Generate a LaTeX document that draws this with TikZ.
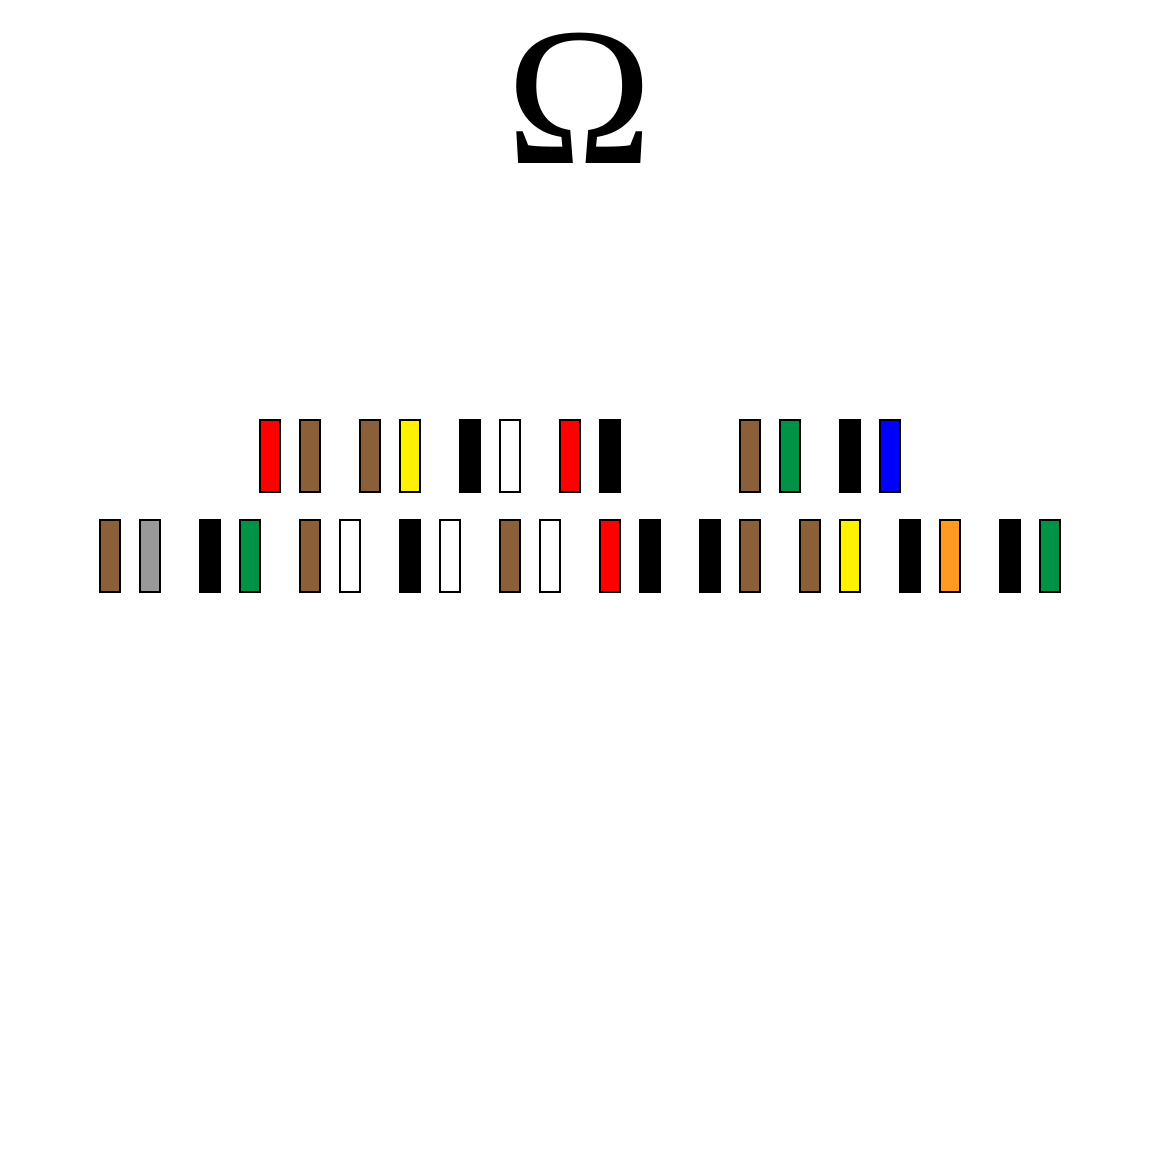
\documentclass[tikz,border=0pt]{standalone}
\usepackage{fontspec}
\setmainfont{Liberation Serif}
\definecolor{rbrown}{RGB}{139,96,56}
\definecolor{rgreen}{RGB}{0,146,69}
\definecolor{rorange}{RGB}{255,153,34}
\definecolor{rgray}{RGB}{153,153,153}
\tikzset{band/.style={draw=black,line width=2pt}}
\begin{document}
\begin{tikzpicture}[x=1pt,y=-1pt]
\useasboundingbox (0,0) rectangle (1160,1160);
\node[inner sep=0pt,anchor=base] (omega) at (580,163) {\fontsize{197}{200}\selectfont Ω};
\foreach \x/\c [count=\i] in {260/red,300/rbrown,360/rbrown,400/yellow,460/black,500/white,560/red,600/black,740/rbrown,780/rgreen,840/black,880/blue}
  \path[band,fill=\c] (\x,420) rectangle ++(20,72) coordinate (a\i);
\foreach \x/\c [count=\i] in {100/rbrown,140/rgray,200/black,240/rgreen,300/rbrown,340/white,400/black,440/white,500/rbrown,540/white,600/red,640/black,700/black,740/rbrown,800/rbrown,840/yellow,900/black,940/rorange,1000/black,1040/rgreen}
  \path[band,fill=\c] (\x,520) rectangle ++(20,72) coordinate (b\i);
\end{tikzpicture}
\end{document}
